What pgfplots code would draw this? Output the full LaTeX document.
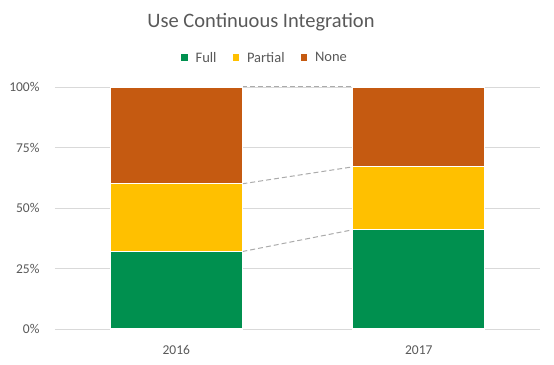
\documentclass[border=0pt]{standalone}
\usepackage{fontspec}
\setmainfont{Carlito}
\usepackage{pgfplots}
\usetikzlibrary{calc}
\pgfplotsset{compat=1.18}
\definecolor{cfull}{HTML}{00904F}
\definecolor{cpart}{HTML}{FFC000}
\definecolor{cnone}{HTML}{C55A11}
\definecolor{ctext}{HTML}{595959}
\definecolor{cgrid}{HTML}{D9D9D9}
\definecolor{cdash}{HTML}{ABABAB}
\begin{document}
\begin{tikzpicture}
\begin{axis}[
  width=485pt, height=242pt, scale only axis,
  xmin=-0.5, xmax=1.5, ymin=0, ymax=100,
  ybar stacked, bar width=0.545,
  xtick={0,1}, xticklabels={2016,2017},
  ytick={0,25,50,75,100},
  yticklabel={\pgfmathprintnumber{\tick}\%},
  /pgf/number format/assume math mode=true,
  axis line style={draw=none},
  major tick length=0pt,
  ymajorgrids, grid style={cgrid, line width=0.9pt},
  ticklabel style={text=ctext, font=\fontsize{13.5}{14}\selectfont},
  yticklabel style={xshift=-12pt},
  xticklabel style={yshift=-13pt},
  legend columns=3,
  legend style={draw=none, fill=none, at={(0.433,1.12)}, anchor=center,
    font=\fontsize{14.5}{15}\selectfont, text=ctext,
    /tikz/every even column/.append style={column sep=14pt},
    /tikz/every odd column/.append style={column sep=6pt}},
  legend image code/.code={\fill[#1, draw=none] (0pt,-3pt) rectangle (6.5pt,3.5pt);},
  clip=false,
]
\addplot[fill=cfull, draw=white, line width=1.2pt] coordinates {(0,32) (1,41)};
\addplot[fill=cpart, draw=white, line width=1.2pt] coordinates {(0,28) (1,26)};
\addplot[fill=cnone, draw=white, line width=1.2pt] coordinates {(0,40) (1,33)};
\legend{Full,Partial,None}
\addplot[forget plot, stack plots=false, sharp plot, cdash, line width=1pt, dash pattern=on 5pt off 3pt] coordinates {(0.2725,32) (0.7275,41)};
\addplot[forget plot, stack plots=false, sharp plot, cdash, line width=1pt, dash pattern=on 5pt off 3pt] coordinates {(0.2725,60) (0.7275,67)};
\addplot[forget plot, stack plots=false, sharp plot, cdash, line width=1pt, dash pattern=on 5pt off 3pt] coordinates {(0.2725,100) (0.7275,100)};
\coordinate (O) at (rel axis cs:0,0);
\end{axis}
\node[text=ctext, font=\fontsize{20.5}{21}\selectfont] at ($(O)+(206pt,307pt)$) {Use Continuous Integration};
\pgfresetboundingbox
\path[use as bounding box] ($(O)+(-55pt,-35pt)$) rectangle ($(O)+(499pt,329pt)$);
\end{tikzpicture}
\end{document}
